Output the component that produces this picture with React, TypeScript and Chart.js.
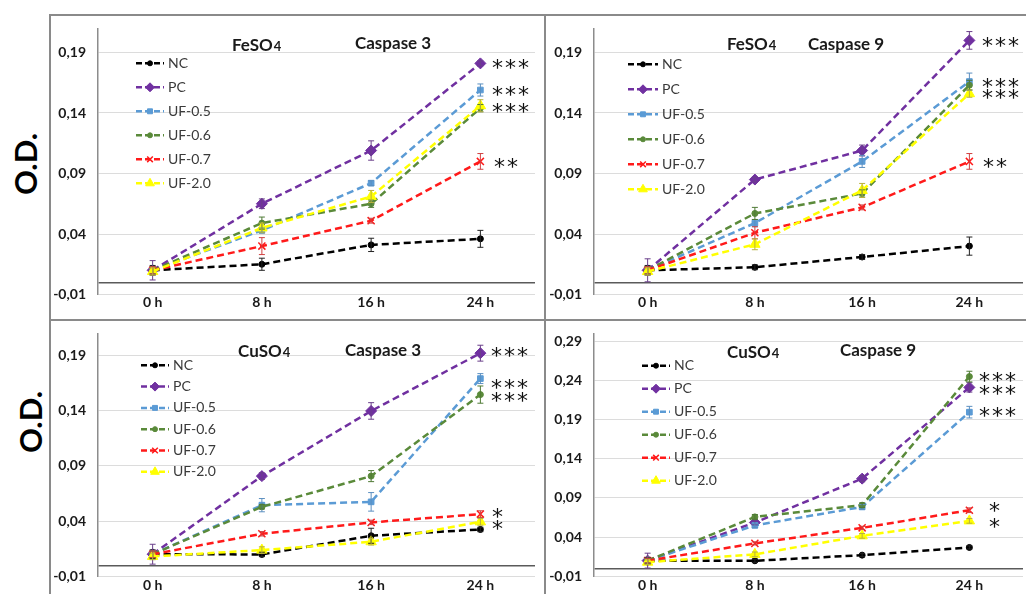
import React, { useEffect, useRef } from "react";
import { Chart, registerables } from "chart.js";
import { drawPoint } from "chart.js/helpers";

Chart.register(...registerables);

// ---------- categories / series ----------
const timeLabels = ["0 h", "8 h", "16 h", "24 h"];
const seriesNames = ["NC", "PC", "UF-0.5", "UF-0.6", "UF-0.7", "UF-2.0"];

// FeSO4 – Caspase 3
const feC3NC = [0.010, 0.015, 0.031, 0.036];
const feC3PC = [0.010, 0.065, 0.109, 0.181];
const feC3UF05 = [0.010, 0.043, 0.082, 0.159];
const feC3UF06 = [0.010, 0.049, 0.065, 0.144];
const feC3UF07 = [0.010, 0.030, 0.051, 0.100];
const feC3UF20 = [0.009, 0.045, 0.071, 0.146];
const feC3Err = [
  [0.004, 0.005, 0.0055, 0.007],
  [0.008, 0.004, 0.008, 0.002],
  [0.003, 0.002, 0.002, 0.005],
  [0.003, 0.005, 0.003, 0.003],
  [0.003, 0.007, 0.002, 0.0065],
  [0.003, 0.004, 0.005, 0.005],
];
const feC3StarValues = [0.1804, 0.158, 0.1444, 0.099];
const feC3StarTexts = ["***", "***", "***", "**"];

// FeSO4 – Caspase 9
const feC9NC = [0.010, 0.0125, 0.021, 0.030];
const feC9PC = [0.010, 0.085, 0.109, 0.200];
const feC9UF05 = [0.010, 0.049, 0.100, 0.166];
const feC9UF06 = [0.010, 0.057, 0.0735, 0.163];
const feC9UF07 = [0.010, 0.041, 0.062, 0.100];
const feC9UF20 = [0.009, 0.0315, 0.076, 0.156];
const feC9Err = [
  [0.004, 0.002, 0.002, 0.0075],
  [0.0095, 0.002, 0.0045, 0.0073],
  [0.003, 0.003, 0.005, 0.007],
  [0.003, 0.005, 0.003, 0.004],
  [0.003, 0.005, 0.002, 0.0065],
  [0.003, 0.0045, 0.0058, 0.003],
];
const feC9StarValues = [0.1984, 0.1647, 0.1554, 0.0983];
const feC9StarTexts = ["***", "***", "***", "**"];

// CuSO4 – Caspase 3
const cuC3NC = [0.010, 0.0098, 0.0267, 0.0324];
const cuC3PC = [0.010, 0.0807, 0.1397, 0.192];
const cuC3UF05 = [0.010, 0.0544, 0.0574, 0.169];
const cuC3UF06 = [0.010, 0.0529, 0.0807, 0.1545];
const cuC3UF07 = [0.010, 0.0285, 0.0388, 0.0463];
const cuC3UF20 = [0.008, 0.0137, 0.0213, 0.0393];
const cuC3Err = [
  [0.004, 0.002, 0.0068, 0.002],
  [0.009, 0.003, 0.0075, 0.0072],
  [0.003, 0.006, 0.0084, 0.0045],
  [0.003, 0.002, 0.005, 0.0078],
  [0.003, 0.002, 0.002, 0.003],
  [0.003, 0.003, 0.003, 0.003],
];
const cuC3StarValues = [0.193, 0.1645, 0.1524, 0.0472, 0.0363];
const cuC3StarTexts = ["***", "***", "***", "*", "*"];

// CuSO4 – Caspase 9
const cuC9NC = [0.010, 0.0098, 0.017, 0.0268];
const cuC9PC = [0.010, 0.0586, 0.1146, 0.231];
const cuC9UF05 = [0.010, 0.055, 0.0785, 0.1994];
const cuC9UF06 = [0.010, 0.0658, 0.0807, 0.2448];
const cuC9UF07 = [0.010, 0.032, 0.0518, 0.0743];
const cuC9UF20 = [0.008, 0.018, 0.0416, 0.0607];
const cuC9Err = [
  [0.004, 0.002, 0.002, 0.002],
  [0.0095, 0.003, 0.004, 0.006],
  [0.003, 0.003, 0.003, 0.0074],
  [0.003, 0.003, 0.003, 0.0068],
  [0.003, 0.002, 0.002, 0.003],
  [0.003, 0.003, 0.003, 0.003],
];
const cuC9StarValues = [0.2448, 0.2279, 0.1994, 0.0785, 0.0581];
const cuC9StarTexts = ["***", "***", "***", "*", "*"];

// ---------- tick values / labels ----------
const yTicksLow = [-0.01, 0, 0.04, 0.09, 0.14, 0.19];
const yTickLabelsLow = ["-0,01", "", "0,04", "0,09", "0,14", "0,19"];
const yTicksHigh = [-0.01, 0, 0.04, 0.09, 0.14, 0.19, 0.24, 0.29];
const yTickLabelsHigh = ["-0,01", "", "0,04", "0,09", "0,14", "0,19", "0,24", "0,29"];

// ---------- styles ----------
const seriesColors = ["#000000", "#7030A0", "#5B9BD5", "#5A8A3A", "#FF1A1A", "#FFFF00"];
const errorColors = ["#222222", "#6a3f8a", "#5b8fc0", "#4f7a35", "#d04040", "#b8b040"];
const pointStyles = ["circle", "rectRot", "rect", "circle", "crossRot", "triangle"];
const pointRadii = [3, 5.5, 4, 3, 5, 6];
const legendRadii = [2.5, 4.5, 3.5, 2.5, 4, 5];
const FONT = "Lato, 'Open Sans', 'DejaVu Sans', sans-serif";

const panels = [
  {
    key: "fe3",
    left: 50, top: 15, width: 495, height: 305,
    yMax: 0.21, ticks: yTicksLow, tickLabels: yTickLabelsLow,
    series: [feC3NC, feC3PC, feC3UF05, feC3UF06, feC3UF07, feC3UF20],
    errors: feC3Err,
    starValues: feC3StarValues, starTexts: feC3StarTexts, starDx: [17, 17, 17, 19],
    padTop: 13.3, padRight: 10, yAxisWidth: 48, xAxisHeight: 25.5, xPad: 0,
    titles: [
      { text: "FeSO", sub: "4", x: 182, y: 36 },
      { text: "Caspase 3", x: 305, y: 34 },
    ],
    legend: { lineX: 38, textX: 70, y0: 35, dy: 24 },
  },
  {
    key: "fe9",
    left: 545, top: 15, width: 485, height: 305,
    yMax: 0.21, ticks: yTicksLow, tickLabels: yTickLabelsLow,
    series: [feC9NC, feC9PC, feC9UF05, feC9UF06, feC9UF07, feC9UF20],
    errors: feC9Err,
    starValues: feC9StarValues, starTexts: feC9StarTexts, starDx: [18, 18, 18, 19],
    padTop: 13.3, padRight: 0, yAxisWidth: 49, xAxisHeight: 25.5, xPad: 0,
    titles: [
      { text: "FeSO", sub: "4", x: 182, y: 35 },
      { text: "Caspase 9", x: 263, y: 35 },
    ],
    legend: { lineX: 34, textX: 68, y0: 36, dy: 25 },
  },
  {
    key: "cu3",
    left: 50, top: 320, width: 495, height: 274,
    yMax: 0.21, ticks: yTicksLow, tickLabels: yTickLabelsLow,
    series: [cuC3NC, cuC3PC, cuC3UF05, cuC3UF06, cuC3UF07, cuC3UF20],
    errors: cuC3Err,
    starValues: cuC3StarValues, starTexts: cuC3StarTexts, starDx: [16, 16, 16, 17, 17],
    padTop: 13.3, padRight: 10, yAxisWidth: 48, xAxisHeight: 17.7, xPad: 1,
    titles: [
      { text: "CuSO", sub: "4", x: 188, y: 36.7 },
      { text: "Caspase 3", x: 295, y: 36 },
    ],
    legend: { lineX: 43, textX: 75, y0: 32, dy: 21.3 },
  },
  {
    key: "cu9",
    left: 545, top: 320, width: 485, height: 274,
    yMax: 0.30, ticks: yTicksHigh, tickLabels: yTickLabelsHigh,
    series: [cuC9NC, cuC9PC, cuC9UF05, cuC9UF06, cuC9UF07, cuC9UF20],
    errors: cuC9Err,
    starValues: cuC9StarValues, starTexts: cuC9StarTexts, starDx: [15, 15, 15, 25, 25],
    padTop: 13.3, padRight: 0, yAxisWidth: 49, xAxisHeight: 17.7, xPad: 1,
    titles: [
      { text: "CuSO", sub: "4", x: 182, y: 38 },
      { text: "Caspase 9", x: 295, y: 36 },
    ],
    legend: { lineX: 48, textX: 80, y0: 32.4, dy: 23 },
  },
];

function overlayPlugin(p: any) {
  return {
    id: "overlay_" + p.key,
    afterDatasetsDraw(chart: any) {
      const ctx = chart.ctx;
      const ys = chart.scales.y;
      ctx.save();
      p.series.forEach((vals: number[], i: number) => {
        const meta = chart.getDatasetMeta(i);
        const errs = p.errors[i];
        ctx.strokeStyle = errorColors[i];
        ctx.lineWidth = 1;
        vals.forEach((v: number, j: number) => {
          const x = meta.data[j].x;
          const y1 = ys.getPixelForValue(v + errs[j]);
          const y2 = ys.getPixelForValue(v - errs[j]);
          ctx.beginPath();
          ctx.moveTo(x, y1);
          ctx.lineTo(x, y2);
          ctx.moveTo(x - 3, y1);
          ctx.lineTo(x + 3, y1);
          ctx.moveTo(x - 3, y2);
          ctx.lineTo(x + 3, y2);
          ctx.stroke();
        });
      });
      ctx.restore();
    },
    afterDraw(chart: any) {
      const ctx = chart.ctx;
      const ca = chart.chartArea;
      // legend
      seriesNames.forEach((name, i) => {
        const yy = ca.top + p.legend.y0 + i * p.legend.dy;
        const x1 = ca.left + p.legend.lineX;
        const x2 = ca.left + p.legend.textX - 4;
        ctx.save();
        ctx.strokeStyle = seriesColors[i];
        ctx.lineWidth = 2.5;
        ctx.setLineDash([6, 3]);
        ctx.beginPath();
        ctx.moveTo(x1, yy);
        ctx.lineTo(x2, yy);
        ctx.stroke();
        ctx.setLineDash([]);
        ctx.fillStyle = seriesColors[i];
        ctx.strokeStyle = seriesColors[i];
        ctx.lineWidth = i === 4 ? 1.5 : 1;
        drawPoint(ctx, { pointStyle: pointStyles[i], radius: legendRadii[i], rotation: 0, borderWidth: ctx.lineWidth } as any, (x1 + x2) / 2, yy);
        ctx.fillStyle = "#3a3a3a";
        ctx.font = "14px " + FONT;
        ctx.textAlign = "left";
        ctx.textBaseline = "middle";
        ctx.fillText(name, ca.left + p.legend.textX, yy);
        ctx.restore();
      });
      // titles
      ctx.save();
      ctx.fillStyle = "#1a1a1a";
      ctx.textAlign = "left";
      ctx.textBaseline = "alphabetic";
      p.titles.forEach((t: any) => {
        ctx.font = "bold 17px " + FONT;
        ctx.fillText(t.text, t.x, t.y);
        if (t.sub) {
          const w = ctx.measureText(t.text).width;
          ctx.font = "bold 13px " + FONT;
          ctx.fillText(t.sub, t.x + w + 1, t.y);
        }
      });
      ctx.restore();
      // significance stars
      ctx.save();
      ctx.fillStyle = "#111111";
      ctx.font = "22px 'DejaVu Sans', sans-serif";
      ctx.textAlign = "center";
      ctx.textBaseline = "alphabetic";
      const m = ctx.measureText("*");
      const off = (m.actualBoundingBoxAscent - m.actualBoundingBoxDescent) / 2;
      const xBase = chart.scales.x.getPixelForValue(timeLabels.length - 1);
      p.starValues.forEach((v: number, k: number) => {
        const cy = chart.scales.y.getPixelForValue(v);
        const n = p.starTexts[k].length;
        for (let s = 0; s < n; s++) {
          ctx.fillText(p.starTexts[k][s], xBase + p.starDx[k] + s * 13, cy + off);
        }
      });
      ctx.restore();
    },
  };
}

function buildConfig(p: any): any {
  const datasets = seriesNames.map((name, i) => ({
    label: name,
    data: p.series[i],
    borderColor: seriesColors[i],
    backgroundColor: seriesColors[i],
    pointBackgroundColor: seriesColors[i],
    pointBorderColor: seriesColors[i],
    pointStyle: pointStyles[i],
    pointRadius: pointRadii[i],
    pointBorderWidth: i === 4 ? 1.5 : 1,
    borderWidth: 2.5,
    borderDash: [7, 4],
    fill: false,
    tension: 0,
    order: seriesNames.length - i,
  }));
  const tickFont = { family: FONT, size: 14, weight: "bold" };
  return {
    type: "line",
    data: { labels: timeLabels, datasets },
    options: {
      animation: false,
      responsive: false,
      devicePixelRatio: 1,
      layout: { padding: { top: p.padTop, right: p.padRight, left: 0, bottom: 0 } },
      plugins: { legend: { display: false }, tooltip: { enabled: false }, title: { display: false } },
      scales: {
        x: {
          offset: true,
          grid: { display: false, drawTicks: false },
          border: { display: false },
          ticks: { font: tickFont, color: "#1a1a1a", padding: p.xPad, autoSkip: false, maxRotation: 0 },
          afterFit: (s: any) => { s.height = p.xAxisHeight; },
        },
        y: {
          min: -0.01,
          max: p.yMax,
          afterBuildTicks: (s: any) => { s.ticks = p.ticks.map((v: number) => ({ value: v })); },
          afterFit: (s: any) => { s.width = p.yAxisWidth; },
          grid: {
            drawTicks: true,
            tickLength: 12,
            tickColor: "rgba(0,0,0,0)",
            color: (c: any) => (c.tick && c.tick.value === 0 ? "#5a5a5a" : "#dcdcdc"),
            lineWidth: (c: any) => (c.tick && c.tick.value === 0 ? 1.5 : 1),
          },
          border: { display: true, color: "#8c8c8c", width: 1.5 },
          ticks: {
            autoSkip: false,
            padding: 0,
            font: tickFont,
            color: "#1a1a1a",
            callback: (_v: any, idx: number) => p.tickLabels[idx],
          },
        },
      },
    },
    plugins: [overlayPlugin(p)],
  };
}

function ChartPanel({ panel }: { panel: any }) {
  const ref = useRef<HTMLCanvasElement>(null);
  useEffect(() => {
    if (!ref.current) return;
    const chart = new Chart(ref.current, buildConfig(panel));
    return () => chart.destroy();
  }, [panel]);
  return (
    <canvas
      ref={ref}
      width={panel.width}
      height={panel.height}
      style={{ position: "absolute", left: panel.left, top: panel.top, width: panel.width, height: panel.height }}
    />
  );
}

const lineColor = "#8a8a8a";

export default function App() {
  return (
    <div style={{ position: "fixed", left: 0, top: 0, width: 1026, height: 594, overflow: "hidden", background: "#ffffff" }}>
      {panels.map((p) => (
        <ChartPanel key={p.key} panel={p} />
      ))}
      <div style={{ position: "absolute", left: 50, top: 14, width: 976, height: 2, background: lineColor }} />
      <div style={{ position: "absolute", left: 49, top: 14, width: 2, height: 580, background: lineColor }} />
      <div style={{ position: "absolute", left: 544, top: 14, width: 2, height: 580, background: lineColor }} />
      <div style={{ position: "absolute", left: 50, top: 319, width: 976, height: 2, background: lineColor }} />
      {[{ x: 25, y: 164 }, { x: 30, y: 422 }].map((o, i) => (
        <div
          key={i}
          style={{
            position: "absolute",
            left: o.x,
            top: o.y,
            transform: "translate(-50%, -50%) rotate(-90deg)",
            fontFamily: FONT,
            fontWeight: "bold",
            fontSize: 31,
            color: "#000",
            whiteSpace: "nowrap",
            lineHeight: 1,
          }}
        >
          O.D.
        </div>
      ))}
    </div>
  );
}
